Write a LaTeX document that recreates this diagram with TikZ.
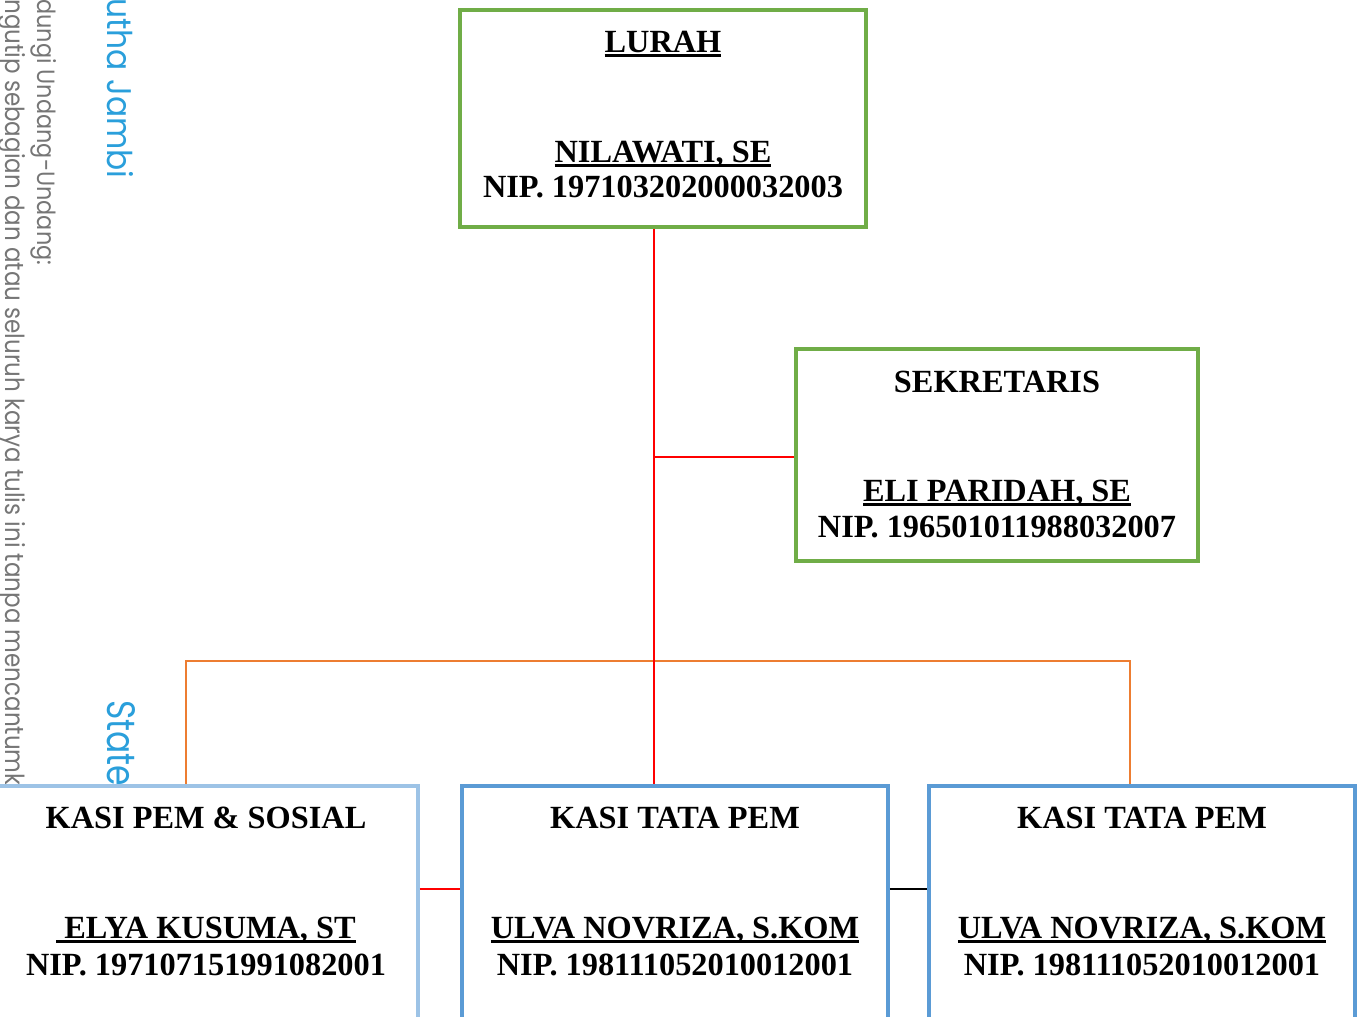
\documentclass[tikz,border=0pt]{standalone}
\usepackage{fontspec}
\setmainfont{Liberation Serif}
\newfontfamily\wmfont{Poppins}
\usepackage{xcolor}
\definecolor{hijau}{HTML}{70AD47}
\definecolor{biru}{HTML}{5B9BD5}
\definecolor{birumuda}{HTML}{9DC3E6}
\definecolor{oranye}{HTML}{ED7D31}
\definecolor{merah}{HTML}{FF0000}
\definecolor{wmbiru}{HTML}{2A9FDB}
\definecolor{wmabu}{HTML}{767676}
\newsavebox{\garisbox}
\newcommand{\garisbawah}[1]{\sbox{\garisbox}{#1}\rlap{\rule[-2.8pt]{\wd\garisbox}{1.7pt}}\usebox{\garisbox}}
\begin{document}
\begin{tikzpicture}
\tikzstyle{kotak} =[rectangle, draw=hijau, line width=2.2pt, fill=white, inner sep=0pt]
\tikzstyle{teks} =[anchor=base, inner sep=0pt, font=\fontsize{18.4}{20}\selectfont\bfseries]
\tikzstyle{wm} =[anchor=base west, rotate=-90, inner sep=0pt, font=\wmfont]
\tikzstyle{garis} =[draw=merah, line width=0.6pt]
\path[use as bounding box, clip] (0,0) rectangle (27.32,-20.34);

\node[wm, text=wmabu](wm1) at (0.74,0.02){\resizebox{5.32cm}{0.38cm}{dungi Undang-Undang:}};
\node[wm, text=wmabu](wm2) at (0.12,0.02){\resizebox{15.72cm}{0.40cm}{ngutip sebagian dan atau seluruh karya tulis ini tanpa mencantumk}};
\node[wm, text=wmbiru](wm3) at (2.14,0.04){\resizebox{3.60cm}{0.52cm}{utha Jambi}};
\node[wm, text=wmbiru](wm4) at (2.14,-14.0){\resizebox{1.72cm}{0.56cm}{State}};

\coordinate (cabang) at (13.08,-9.14);
\coordinate (bagi) at (13.08,-13.22);
\coordinate (kiri) at (3.72,-13.22);
\coordinate (kanan) at (22.6,-13.22);
\coordinate (tengah) at (0,-17.78);

\node[kotak, minimum width=8.12cm, minimum height=4.34cm](lurah) at (13.26,-2.37){};
\node[kotak, minimum width=8.04cm, minimum height=4.24cm](sekre) at (19.94,-9.10){};
\node[kotak, draw=birumuda, minimum width=8.76cm, minimum height=6.28cm](kasi1) at (3.98,-18.86){};
\node[kotak, draw=biru, minimum width=8.52cm, minimum height=6.28cm](kasi2) at (13.50,-18.86){};
\node[kotak, draw=biru, minimum width=8.52cm, minimum height=6.28cm](kasi3) at (22.84,-18.86){};

\draw [draw=oranye, line width=0.6pt] (kasi1.north -| kiri) -- (kiri) -- (kanan) -- (kasi3.north -| kanan);
\draw [garis] (lurah.south -| cabang) -- (kasi2.north -| cabang);
\draw [garis] (cabang) -- (sekre.west |- cabang);
\draw [garis] (kasi1.east |- tengah) -- (kasi2.west |- tengah);
\draw [line width=0.6pt] (kasi2.east |- tengah) -- (kasi3.west |- tengah);

\node[teks](lurahJab) at (13.26,-1.04){\garisbawah{LURAH}};
\node[teks](lurahNama) at (13.26,-3.24){\garisbawah{NILAWATI, SE}};
\node[teks](lurahNip) at (13.26,-3.94){NIP. 197103202000032003};

\node[teks](sekreJab) at (19.94,-7.84){SEKRETARIS};
\node[teks](sekreNama) at (19.94,-10.02){\garisbawah{ELI PARIDAH, SE}};
\node[teks](sekreNip) at (19.94,-10.74){NIP. 196501011988032007};

\node[teks](kasi1Jab) at (4.12,-16.56){KASI PEM \& SOSIAL};
\node[teks](kasi1Nama) at (4.12,-18.76){\garisbawah{\ ELYA KUSUMA, ST}};
\node[teks](kasi1Nip) at (4.12,-19.50){NIP. 197107151991082001};

\node[teks](kasi2Jab) at (13.50,-16.56){KASI TATA PEM};
\node[teks](kasi2Nama) at (13.50,-18.76){\garisbawah{ULVA NOVRIZA, S.KOM}};
\node[teks](kasi2Nip) at (13.50,-19.50){NIP. 198111052010012001};

\node[teks](kasi3Jab) at (22.84,-16.56){KASI TATA PEM};
\node[teks](kasi3Nama) at (22.84,-18.76){\garisbawah{ULVA NOVRIZA, S.KOM}};
\node[teks](kasi3Nip) at (22.84,-19.50){NIP. 198111052010012001};
\end{tikzpicture}
\end{document}
